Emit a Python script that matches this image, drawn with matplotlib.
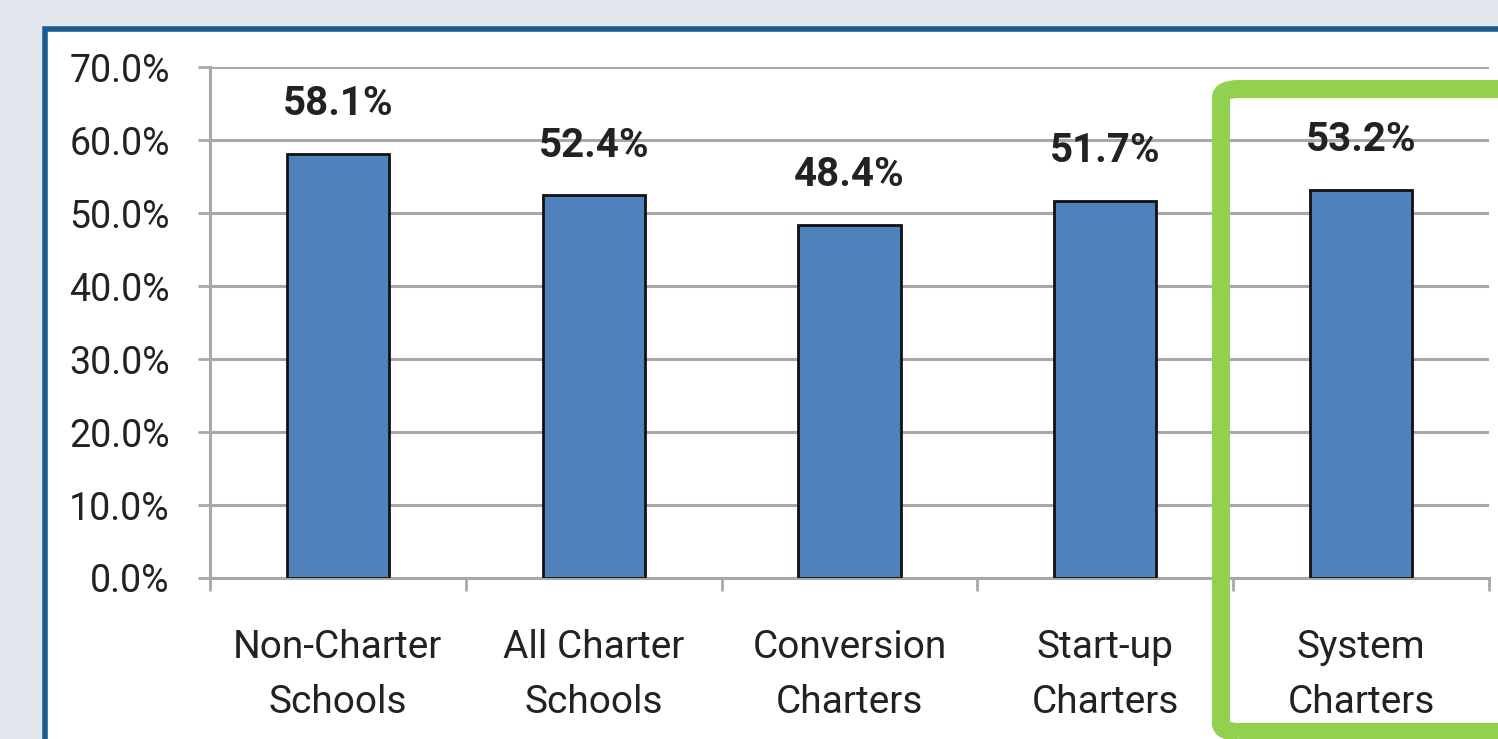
import matplotlib.pyplot as plt
from matplotlib.patches import Rectangle, FancyBboxPatch
import numpy as np

categories = ["Non-Charter\nSchools", "All Charter\nSchools", "Conversion\nCharters",
              "Start-up\nCharters", "System\nCharters"]
values = [58.1, 52.4, 48.4, 51.7, 53.2]
value_labels = ["58.1%", "52.4%", "48.4%", "51.7%", "53.2%"]
y_ticks = [0, 10, 20, 30, 40, 50, 60, 70]
y_tick_labels = ["0.0%", "10.0%", "20.0%", "30.0%", "40.0%", "50.0%", "60.0%", "70.0%"]

plt.rcParams["font.family"] = ["Roboto", "DejaVu Sans"]

W, H = 1498, 739
fig = plt.figure(figsize=(W / 100, H / 100), dpi=100)
fig.patch.set_facecolor("#e2e6ee")

# white panel with dark blue frame (runs off right / bottom)
fig.patches.append(Rectangle((45 / W, -0.05), 1.1, 1 - 29 / H + 0.05,
                             transform=fig.transFigure, facecolor="white",
                             edgecolor="#1d5a8e", linewidth=4, zorder=-1))

ax = fig.add_axes([210 / W, 1 - 578 / H, 1279 / W, (578 - 67) / H])
ax.set_facecolor("white")
ax.set_zorder(1)

x = np.arange(len(values))
ax.bar(x, values, width=0.4, color="#4f81bd", edgecolor="#111111", linewidth=2, zorder=3)

for xi, v, lab in zip(x, values, value_labels):
    ax.annotate(lab, (xi, v), xytext=(0, 22), textcoords="offset points",
                ha="center", va="bottom", fontsize=29, fontweight="bold", color="#222222")

ax.set_xlim(-0.5, len(values) - 0.5)
ax.set_ylim(0, 70)
ax.set_yticks(y_ticks)
ax.set_yticklabels(y_tick_labels, fontsize=27, color="#222222")
ax.yaxis.grid(True, color="#a8a8a8", linewidth=2.2, zorder=1)
ax.set_axisbelow(True)

ax.set_xticks(x)
ax.set_xticklabels(categories, fontsize=28, color="#222222", linespacing=1.6)
ax.set_xticks(np.arange(len(values) + 1) - 0.5, minor=True)
ax.tick_params(axis="x", which="major", length=0, pad=37)
ax.tick_params(axis="x", which="minor", length=9, width=2, color="#a8a8a8")
ax.tick_params(axis="y", length=9, width=2, color="#a8a8a8", pad=20)

for s in ["top", "right"]:
    ax.spines[s].set_visible(False)
for s in ["left", "bottom"]:
    ax.spines[s].set_color("#a8a8a8")
    ax.spines[s].set_linewidth(2.2)

# green highlight box around the last category
fig.patches.append(FancyBboxPatch((1221 / W, 7 / H), 0.5, (H - 89 - 7) / H,
                                  boxstyle="round,pad=0,rounding_size=0.012",
                                  transform=fig.transFigure, facecolor="none",
                                  edgecolor="#92d050", linewidth=13, zorder=5))

fig.savefig("out.png", dpi=100, facecolor=fig.get_facecolor())
